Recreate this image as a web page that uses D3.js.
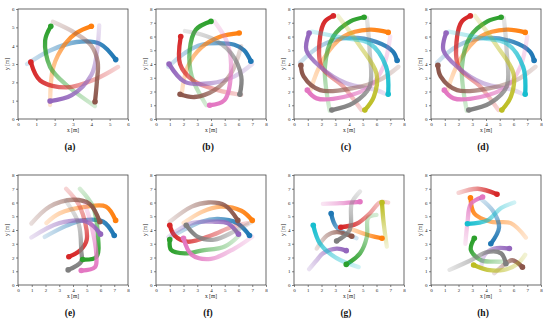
<!DOCTYPE html>
<html><head><meta charset="utf-8">
<script src="https://cdn.jsdelivr.net/npm/d3@7"></script>
<style>body{margin:0;background:#fff}svg{display:block}</style>
</head><body>
<script>
// tab10 palette
const palette = {blue:"#1f77b4",orange:"#ff7f0e",green:"#2ca02c",red:"#d62728",purple:"#9467bd",brown:"#8c564b",pink:"#e377c2",gray:"#7f7f7f",olive:"#bcbd22",cyan:"#17becf"};
const panelLabels = ["(a)","(b)","(c)","(d)","(e)","(f)","(g)","(h)"];
const axisMax = [6,8,8,8,8,8,8,8];
// trajectories: first point = start (faded), last point = end (solid dot)
const trajA = [
 {c:"blue",  p:[[0.49,3.0],[1.75,3.74],[3.2,4.2],[4.47,4.1],[5.33,3.24]]},
 {c:"orange",p:[[1.75,0.76],[1.93,2.84],[2.57,4.1],[3.2,4.7],[4.0,5.06]]},
 {c:"green", p:[[4.2,0.7],[2.66,1.84],[1.75,2.84],[1.48,4.28],[1.79,5.06]]},
 {c:"red",   p:[[5.46,2.84],[4.28,2.2],[2.66,1.72],[1.21,2.1],[0.7,3.1]]},
 {c:"purple",p:[[4.43,5.1],[4.3,3.6],[4.0,2.4],[2.93,1.3],[1.75,0.98]]},
 {c:"brown", p:[[1.9,5.3],[3.1,4.7],[4.0,4.0],[4.35,3.1],[4.3,2.0],[4.2,0.94]]}
];
const trajB = [
 {c:"blue",  p:[[0.89,3.8],[2.1,4.8],[3.3,5.4],[5.7,5.4],[6.4,5.0],[6.9,4.2]]},
 {c:"orange",p:[[1.85,1.7],[2.3,3.8],[3.3,5.2],[4.7,6.0],[6.05,6.25]]},
 {c:"green", p:[[3.65,1.0],[2.6,3.1],[2.45,5.0],[2.9,6.5],[4.0,7.1]]},
 {c:"red",   p:[[6.2,1.75],[4.5,2.1],[2.7,2.8],[1.75,4.0],[1.8,6.0]]},
 {c:"purple",p:[[7.0,4.0],[5.7,3.1],[4.0,2.6],[2.1,2.7],[0.95,4.0]]},
 {c:"brown", p:[[6.2,5.3],[5.45,3.3],[4.25,2.1],[2.8,1.6],[1.75,1.8]]},
 {c:"pink",  p:[[4.25,7.1],[5.2,5.5],[5.45,3.3],[4.98,1.37],[3.9,1.0]]},
 {c:"gray",  p:[[2.1,6.4],[4.0,5.9],[5.45,4.8],[6.2,3.1],[6.1,1.8]]}
];
const trajC = [
 {c:"blue",  p:[[0.44,4.1],[1.9,5.3],[3.8,5.9],[6.0,5.6],[7.2,4.9],[7.5,4.25]]},
 {c:"orange",p:[[1.16,2.0],[2.1,4.3],[3.6,6.0],[5.5,6.5],[6.85,6.3]]},
 {c:"green", p:[[2.6,0.6],[2.25,3.8],[2.86,6.0],[4.1,7.1],[5.1,7.4]]},
 {c:"red",   p:[[4.9,0.65],[3.6,2.35],[2.0,3.8],[1.9,6.0],[2.25,7.1],[2.86,7.5]]},
 {c:"purple",p:[[6.6,1.85],[6.0,2.1],[3.8,2.6],[1.9,3.8],[0.9,5.0],[1.1,6.25]]},
 {c:"brown", p:[[7.6,3.8],[6.25,2.85],[4.3,2.25],[1.9,2.1],[0.7,3.1],[0.5,3.9]]},
 {c:"pink",  p:[[7.0,6.0],[6.5,3.8],[5.5,2.35],[3.6,1.6],[1.65,1.5],[0.97,2.1]]},
 {c:"gray",  p:[[5.3,7.35],[5.5,5.0],[5.5,2.35],[4.3,1.15],[2.75,0.65]]},
 {c:"olive", p:[[3.2,7.5],[4.8,5.3],[6.0,3.3],[5.8,1.6],[5.15,0.65]]},
 {c:"cyan",  p:[[1.3,6.35],[3.6,5.9],[5.5,5.5],[6.7,3.8],[6.85,1.8]]}
];
const trajD = trajC;
const trajE = [
 {c:"blue",  p:[[1.94,3.5],[3.5,4.3],[4.7,4.7],[6.2,4.6],[7.0,3.6]]},
 {c:"orange",p:[[2.06,4.5],[3.0,5.2],[5.0,5.7],[6.4,5.7],[7.1,4.7]]},
 {c:"green", p:[[4.5,7.0],[5.45,5.7],[5.8,3.75],[5.7,2.05],[4.7,1.85]]},
 {c:"red",   p:[[3.5,7.0],[4.5,5.7],[5.0,3.3],[4.5,2.5],[3.7,2.05]]},
 {c:"purple",p:[[0.97,3.45],[3.0,4.5],[5.0,4.6],[6.0,3.7]]},
 {c:"brown", p:[[0.97,4.47],[2.3,5.7],[4.0,6.2],[5.2,5.9],[5.95,4.6]]},
 {c:"pink",  p:[[4.85,5.9],[5.3,4.5],[5.7,2.2],[5.6,1.3],[4.6,1.05]]},
 {c:"gray",  p:[[3.5,6.1],[4.4,4.5],[4.6,2.5],[4.6,1.7],[3.65,1.1]]}
];
const trajF = [
 {c:"blue",  p:[[1.1,3.5],[3.3,4.6],[4.5,4.8],[5.9,4.5],[6.8,3.6]]},
 {c:"orange",p:[[2.0,4.5],[3.3,5.3],[4.7,5.7],[6.2,5.4],[7.0,4.7]]},
 {c:"green", p:[[6.05,3.6],[5.0,2.8],[3.3,2.5],[2.1,2.3],[1.1,2.55],[1.0,3.3]]},
 {c:"red",   p:[[6.65,4.5],[5.45,4.2],[4.0,3.6],[2.3,3.15],[1.35,3.6],[1.0,4.35]]},
 {c:"purple",p:[[0.9,3.5],[2.6,4.5],[4.3,4.6],[5.2,4.5],[6.0,3.7]]},
 {c:"brown", p:[[1.0,4.6],[2.6,5.7],[3.8,6.0],[5.0,5.8],[5.95,4.7]]},
 {c:"pink",  p:[[7.0,3.5],[5.7,2.65],[4.0,1.9],[2.6,2.2],[2.0,3.4]]},
 {c:"gray",  p:[[7.0,4.6],[5.7,3.9],[4.25,3.3],[3.05,3.5],[2.2,4.35]]}
];
const trajG = [
 {c:"blue",  p:[[4.55,3.4],[3.1,4.2],[2.7,5.2]]},
 {c:"orange",p:[[3.8,4.2],[5.5,3.6],[6.4,3.4]]},
 {c:"green", p:[[6.0,5.1],[5.4,4.9],[5.3,3.5],[4.8,2.3],[3.8,1.5]]},
 {c:"red",   p:[[6.85,6.0],[6.25,6.0],[5.5,5.2],[4.55,4.45],[3.4,4.2]]},
 {c:"purple",p:[[1.1,1.15],[1.65,1.8],[2.1,2.3],[3.1,2.65],[3.8,2.5]]},
 {c:"brown", p:[[1.65,2.65],[2.4,3.6],[3.1,3.85],[4.2,3.55]]},
 {c:"pink",  p:[[2.1,5.9],[3.35,5.95],[4.8,6.05]]},
 {c:"gray",  p:[[4.8,6.8],[4.2,5.95],[4.05,4.0],[3.1,3.2]]},
 {c:"olive", p:[[6.75,2.8],[6.5,4.7],[6.4,6.0]]},
 {c:"cyan",  p:[[4.7,1.3],[3.1,1.95],[1.9,3.0],[1.4,4.35]]}
];
const trajH = [
 {c:"red",   p:[[2.0,6.7],[3.4,7.0],[4.8,6.6]]},
 {c:"orange",p:[[6.9,3.45],[5.8,4.5],[4.35,4.6],[3.15,5.2],[2.87,6.35]]},
 {c:"pink",  p:[[2.5,3.0],[2.65,4.5],[2.9,5.9],[3.75,6.4]]},
 {c:"blue",  p:[[3.65,6.25],[4.5,5.4],[4.95,4.2],[4.35,3.0]]},
 {c:"cyan",  p:[[6.05,6.0],[5.1,5.6],[4.1,4.7],[2.65,4.45]]},
 {c:"green", p:[[5.45,1.7],[4.6,1.7],[3.65,1.8],[2.9,2.55],[3.15,3.4]]},
 {c:"purple",p:[[3.65,1.35],[3.9,2.2],[4.6,2.65],[5.7,2.65]]},
 {c:"gray",  p:[[1.35,1.1],[2.9,1.8],[4.1,2.4],[5.1,2.3],[5.45,1.55]]},
 {c:"brown", p:[[4.6,0.85],[5.1,1.3],[5.9,1.8],[6.65,1.3]]},
 {c:"olive", p:[[6.85,2.2],[6.3,1.55],[5.3,1.1],[4.1,1.1],[3.1,1.45]]}
];
const panels = [trajA,trajB,trajC,trajD,trajE,trajF,trajG,trajH];

const W=550,H=327;
const colX = [18,156,294,431];
const rowY = [9,175];
const S = 110;
const svg = d3.select("body").append("svg").attr("width",W).attr("height",H)
  .style("font-family","'Liberation Serif','DejaVu Serif',serif");
const defs = svg.append("defs");
let gid=0;
panels.forEach((trajs,i)=>{
  const col=i%4,row=Math.floor(i/4);
  const x0=colX[col], y0=rowY[row];
  const m=axisMax[i];
  const x=d3.scaleLinear().domain([0,m]).range([0,S]);
  const y=d3.scaleLinear().domain([0,m]).range([S,0]);
  const g=svg.append("g").attr("transform",`translate(${x0},${y0})`);
  const line=d3.line().x(d=>x(d[0])).y(d=>y(d[1])).curve(d3.curveCatmullRom.alpha(0.5));
  trajs.forEach(t=>{
    const col=palette[t.c];
    const s=t.p[0], e=t.p[t.p.length-1];
    const id="gr"+(gid++);
    const lg=defs.append("linearGradient").attr("id",id).attr("gradientUnits","userSpaceOnUse")
      .attr("x1",x(s[0])).attr("y1",y(s[1])).attr("x2",x(e[0])).attr("y2",y(e[1]));
    lg.append("stop").attr("offset","0").attr("stop-color",col).attr("stop-opacity",0.2);
    lg.append("stop").attr("offset","0.45").attr("stop-color",col).attr("stop-opacity",0.5);
    lg.append("stop").attr("offset","0.8").attr("stop-color",col).attr("stop-opacity",0.85);
    lg.append("stop").attr("offset","1").attr("stop-color",col).attr("stop-opacity",1);
    g.append("path").attr("d",line(t.p)).attr("fill","none")
      .attr("stroke",`url(#${id})`).attr("stroke-width",4.3).attr("stroke-linecap","round").attr("stroke-linejoin","round");
  });
  trajs.forEach(t=>{
    const e=t.p[t.p.length-1];
    g.append("circle").attr("cx",x(e[0])).attr("cy",y(e[1])).attr("r",2.8).attr("fill",palette[t.c]);
  });
  const ticks=d3.range(0,m+1);
  const fmt=d3.format("d");
  const xa=g.append("g").attr("transform",`translate(0,${S})`).call(d3.axisBottom(x).tickValues(ticks).tickFormat(fmt).tickSize(2).tickPadding(1.5));
  const ya=g.append("g").call(d3.axisLeft(y).tickValues(ticks).tickFormat(fmt).tickSize(2).tickPadding(1.5));
  [xa,ya].forEach(a=>{a.select(".domain").remove();a.selectAll("line").attr("stroke","#333").attr("stroke-width",0.6);
    a.selectAll("text").attr("font-size",5).attr("fill","#222").attr("font-family","'Liberation Serif',serif");});
  g.append("rect").attr("width",S).attr("height",S).attr("fill","none").attr("stroke","#444").attr("stroke-width",0.8);
  g.append("text").attr("x",S/2).attr("y",S+12.5).attr("text-anchor","middle").attr("font-size",5.5).attr("fill","#222").text("x [m]");
  g.append("text").attr("transform",`translate(-9.5,${S/2}) rotate(-90)`).attr("text-anchor","middle").attr("font-size",5.5).attr("fill","#222").text("y [m]");
  g.append("text").attr("x",S/2-3).attr("y",S+31).attr("text-anchor","middle").attr("font-size",9.5).attr("font-weight","bold").attr("fill","#111").text(panelLabels[i]);
});
</script>
</body></html>
